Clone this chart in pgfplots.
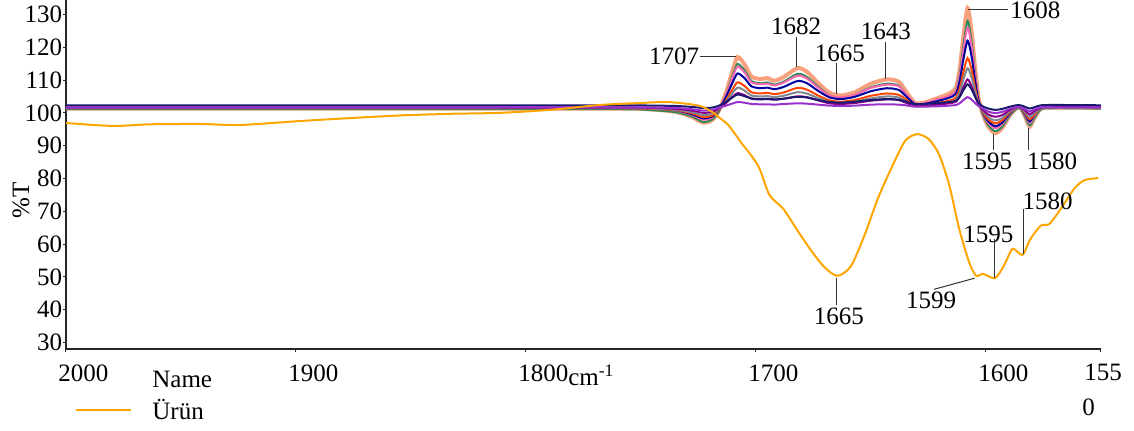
\documentclass[border=0pt]{standalone}
\usepackage{pgfplots}
\usepackage{pgfplotstable}
\pgfplotsset{compat=1.18}
\usepackage{fontspec}
\setmainfont{Liberation Serif}
\definecolor{cSalmon}{HTML}{F8A07E}
\definecolor{cGreen}{HTML}{2E8B57}
\definecolor{cPink}{HTML}{FF69B4}
\definecolor{cBlue}{HTML}{00009C}
\definecolor{cOrRed}{HTML}{FF4500}
\definecolor{cGray}{HTML}{808890}
\definecolor{cPurple}{HTML}{8B008B}
\definecolor{cNavy}{HTML}{191970}
\definecolor{cViolet}{HTML}{9932CC}
\definecolor{cOrange}{HTML}{FFA500}
\pgfplotsset{longlegend/.style={legend image code/.code={\draw[##1, line width=1pt] (0pt,0pt) -- (27.5pt,0pt);}}}

\pgfplotstableread{
x S G P B O Y U N V
2000 101.3 101.1 101.5 101.5 101.4 101.4 101.6 102.3 101.7
1850 101.3 101.1 101.5 101.5 101.4 101.4 101.6 102.3 101.7
1760 101.3 101.1 101.5 101.5 101.4 101.4 101.6 102.3 101.7
1745 101.0 100.8 101.3 101.3 101.2 101.3 101.5 102.2 101.6
1735 100.3 100.2 100.7 100.8 100.8 100.9 101.2 102.1 101.5
1728 98.8 98.9 99.4 99.6 99.9 100.2 100.7 101.8 101.1
1723 97.0 97.2 97.9 98.3 98.7 99.3 100.0 101.5 100.7
1719 97.8 98.0 98.6 98.9 99.2 99.7 100.3 101.6 100.9
1716 100.8 100.6 101.1 101.1 101.1 101.2 101.4 102.2 101.6
1713 106.3 105.5 105.5 104.9 103.9 103.4 103.0 103.4 102.2
1710 113.3 111.7 111.1 109.5 107.4 106.2 105.0 104.8 102.9
1708 117.0 114.9 114.1 112.0 109.3 107.7 106.0 105.6 103.3
1705 114.8 113.0 112.3 110.6 108.2 106.8 105.4 105.1 103.1
1702 111.1 109.7 109.3 108.1 106.3 105.3 104.3 104.4 102.7
1698 110.3 109.0 108.7 107.5 105.9 105.0 104.1 104.2 102.6
1695 110.6 109.3 108.9 107.7 106.1 105.1 104.2 104.3 102.6
1692 109.8 108.6 108.3 107.2 105.7 104.8 104.0 104.1 102.5
1688 110.9 109.5 109.2 107.9 106.2 105.2 104.3 104.3 102.7
1682 113.6 111.9 111.3 109.7 107.6 106.3 105.0 104.9 102.9
1678 112.6 111.0 110.5 109.1 107.1 105.9 104.8 104.7 102.8
1673 109.1 108.0 107.7 106.7 105.3 104.5 103.8 103.9 102.5
1668 106.1 105.3 105.3 104.7 103.8 103.3 102.9 103.3 102.2
1663 105.3 104.6 104.7 104.2 103.4 103.0 102.7 103.1 102.1
1657 106.3 105.5 105.5 104.9 103.9 103.4 103.0 103.4 102.2
1650 108.9 107.8 107.6 106.6 105.2 104.4 103.7 103.9 102.5
1643 110.2 108.9 108.6 107.5 105.9 105.0 104.1 104.2 102.6
1638 109.5 108.3 108.1 107.0 105.5 104.7 103.9 104.0 102.5
1635 106.8 105.9 105.9 105.2 104.2 103.6 103.1 103.5 102.3
1631 103.1 102.7 102.9 102.7 102.3 102.1 102.1 102.7 101.9
1627 103.1 102.7 102.9 102.7 102.3 102.1 102.1 102.7 101.9
1621 104.5 103.9 104.1 103.6 103.0 102.7 102.5 103.0 102.0
1616 105.9 105.2 105.2 104.6 103.7 103.2 102.9 103.3 102.2
1613 107.8 106.8 106.7 105.9 104.7 104.0 103.4 103.7 102.4
1611.3 114.1 112.4 111.7 110.1 107.8 106.5 105.2 105.0 103.0
1610 122.3 119.6 118.3 115.6 111.9 109.8 107.5 106.7 103.8
1608 131.9 128.0 126.0 122.0 116.7 113.6 110.2 108.7 104.8
1606.2 124.3 121.3 119.9 116.9 112.9 110.6 108.0 107.1 104.0
1604.8 114.1 112.4 111.7 110.1 107.8 106.5 105.2 105.0 103.0
1603.3 104.9 104.3 104.4 103.9 103.2 102.8 102.6 103.1 102.1
1601.5 99.8 99.8 100.3 100.4 100.5 100.7 101.0 102.0 101.3
1599 95.8 96.2 96.9 97.4 98.0 98.7 99.5 101.3 100.4
1596 93.8 94.4 95.3 95.9 96.8 97.7 98.8 100.9 99.9
1593 95.3 95.7 96.5 97.0 97.7 98.4 99.3 101.2 100.3
1590 98.8 98.9 99.4 99.6 99.9 100.2 100.7 101.8 101.1
1587 101.3 101.1 101.5 101.5 101.4 101.4 101.6 102.3 101.7
1585 101.5 101.3 101.7 101.6 101.5 101.5 101.7 102.3 101.7
1583 98.8 98.9 99.4 99.6 99.9 100.2 100.7 101.8 101.1
1581 95.8 96.2 96.9 97.4 98.0 98.7 99.5 101.3 100.4
1579 98.3 98.4 99.0 99.3 99.5 99.9 100.5 101.7 101.0
1576 101.3 101.1 101.5 101.5 101.4 101.4 101.6 102.3 101.7
1570 101.6 101.4 101.7 101.7 101.6 101.5 101.7 102.4 101.7
1550 101.5 101.3 101.7 101.6 101.5 101.5 101.7 102.3 101.7
}\diffspectra

\pgfplotstableread{
x y
2000 96.9
1979.6 96.0
1963.5 96.5
1941.7 96.6
1924.3 96.3
1898.3 97.5
1876.5 98.4
1854.8 99.2
1833.0 99.7
1811.3 100.0
1789.6 100.9
1767.8 102.4
1750.4 103.0
1739.6 103.3
1733.0 103.0
1724.3 102.1
1719.1 100.3
1715.7 98.4
1711.8 96.1
1705.9 90.4
1702.9 87.8
1698.6 83.2
1694.1 74.9
1688.2 70.8
1682.3 64.5
1676.4 58.4
1670.6 53.2
1664.7 50.3
1658.8 53.2
1652.9 62.5
1647.0 73.9
1641.1 83.2
1635.2 91.4
1630.0 93.5
1624.9 92.0
1620.4 87.3
1616.0 78.0
1611.6 64.5
1607.2 54.2
1604.2 50.3
1601.3 50.9
1596.1 49.6
1592.4 53.2
1588.7 58.4
1586.6 57.8
1583.9 56.8
1580.7 61.5
1576.2 65.6
1572.5 66.1
1567.4 70.8
1561.5 77.0
1557.1 79.5
1551.2 80.1
}\urun

\begin{document}
\begin{tikzpicture}[font=\fontsize{12.5}{15}\selectfont]
\begin{axis}[
  scale only axis,
  width=517.5pt, height=174.5pt,
  x dir=reverse,
  xmin=1550, xmax=2000,
  ymin=28, ymax=134.4,
  clip=false,
  axis x line*=bottom,
  axis y line*=left,
  axis line style={line width=0.6pt, black!85},
  xtick={2000,1900,1800,1700,1600,1550},
  xticklabels={2000,1900,1800,1700,1600,{\hspace*{-4.5pt}155\\[2.5pt]\hspace*{-5.5pt}0}},
  ytick={30,40,...,130},
  /pgf/number format/assume math mode=true,
  tick align=outside,
  major tick length=1.5pt,
  tick style={line width=0.5pt, black!85},
  xticklabel style={anchor=north west, inner sep=0pt, xshift=-4pt, yshift=-6pt, align=left},
  yticklabel style={anchor=east, inner sep=0pt, xshift=-0.2pt},
  ylabel={\%T},
  ylabel style={at={(axis description cs:-0.0435,0.427)}, anchor=center, inner sep=0pt},
  xlabel={cm\textsuperscript{-1}},
  xlabel style={at={(axis description cs:0.485,0)}, anchor=base west, inner sep=0pt, yshift=-18pt},
  legend style={draw=none, fill=none, at={(axis description cs:0,0)}, anchor=north west,
    xshift=4.5pt, yshift=-11pt, inner sep=0pt, column sep=10pt, row sep=4pt,
    nodes={inner sep=0pt}},
  legend cell align=left,
  every axis plot/.append style={smooth, tension=0.45},
]
\addlegendimage{empty legend}
\addlegendentry{Name}
\addplot[cSalmon, line width=2pt, forget plot] table[x=x, y=S] {\diffspectra};
\addplot[cGreen, line width=1pt, forget plot] table[x=x, y=G] {\diffspectra};
\addplot[cPink, line width=1pt, forget plot] table[x=x, y=P] {\diffspectra};
\addplot[cBlue, line width=1pt, forget plot] table[x=x, y=B] {\diffspectra};
\addplot[cOrRed, line width=1pt, forget plot] table[x=x, y=O] {\diffspectra};
\addplot[cGray, line width=1pt, forget plot] table[x=x, y=Y] {\diffspectra};
\addplot[cPurple, line width=1pt, forget plot] table[x=x, y=U] {\diffspectra};
\addplot[cNavy, line width=1pt, forget plot] table[x=x, y=N] {\diffspectra};
\addplot[cViolet, line width=1pt, forget plot] table[x=x, y=V] {\diffspectra};
\addplot[cOrange, line width=1pt, longlegend] table[x=x, y=y] {\urun};
\addlegendentry{Ürün}

% annotations on the difference spectra
\draw[black!80, line width=0.5pt] (axis cs:1724.3,117.2) -- (axis cs:1708.5,117.2);
\node[anchor=east, inner sep=0pt] at (axis cs:1724.5,117.2) {1707};
\draw[black!80, line width=0.5pt] (axis cs:1682.5,123.1) -- (axis cs:1682.5,114.0);
\node[anchor=south, inner sep=0pt] at (axis cs:1682.5,123.6) {1682};
\draw[black!80, line width=0.5pt] (axis cs:1665.2,115.2) -- (axis cs:1665.2,105.8);
\node[anchor=south, inner sep=0pt] at (axis cs:1663.5,115.6) {1665};
\draw[black!80, line width=0.5pt] (axis cs:1643.5,121.6) -- (axis cs:1643.5,110.3);
\node[anchor=south, inner sep=0pt] at (axis cs:1643.5,122.1) {1643};
\draw[black!80, line width=0.5pt] (axis cs:1607.8,131.4) -- (axis cs:1590.4,131.4);
\node[anchor=west, inner sep=0pt] at (axis cs:1589.6,131.4) {1608};
\draw[black!80, line width=0.5pt] (axis cs:1596.9,93.6) -- (axis cs:1596.9,88.7);
\node[anchor=north, inner sep=0pt] at (axis cs:1599.5,87.9) {1595};
\draw[black!80, line width=0.5pt] (axis cs:1581.7,95.5) -- (axis cs:1581.7,88.7);
\node[anchor=north, inner sep=0pt] at (axis cs:1571.3,87.9) {1580};
% annotations on the product spectrum
\draw[black!80, line width=0.5pt] (axis cs:1665,49.7) -- (axis cs:1665,41.4);
\node[anchor=north, inner sep=0pt] at (axis cs:1664,40.6) {1665};
\draw[black!80, line width=0.5pt] (axis cs:1622.6,46.2) -- (axis cs:1604.9,49.6);
\node[anchor=north, inner sep=0pt] at (axis cs:1623.9,45.5) {1599};
\draw[black!80, line width=0.5pt] (axis cs:1596.1,61.6) -- (axis cs:1596.1,49.7);
\node[anchor=south, inner sep=0pt] at (axis cs:1599,60.3) {1595};
\draw[black!80, line width=0.5pt] (axis cs:1583.9,70.7) -- (axis cs:1583.9,56.9);
\node[anchor=south west, inner sep=0pt] at (axis cs:1584.3,70.3) {1580};
\end{axis}
\pgfresetboundingbox
\path[use as bounding box] (-33pt,-40.5pt) rectangle (534pt,174.5pt);
\end{tikzpicture}
\end{document}
